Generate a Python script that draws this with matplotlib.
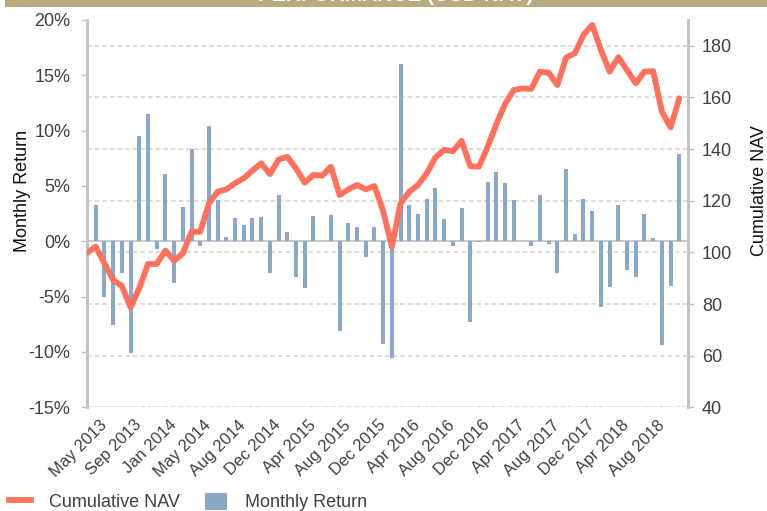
import matplotlib.pyplot as plt
import numpy as np
from matplotlib.lines import Line2D
from matplotlib.patches import Patch, Rectangle
from matplotlib.transforms import blended_transform_factory

plt.rcParams["font.family"] = ["Liberation Sans", "DejaVu Sans"]

# monthly return in %, one bar per month after the start point
monthly_return = [
    3.3, -5.0, -7.6, -2.9, -10.1, 9.5, 11.5, -0.7, 6.1, -3.8, 3.1, 8.3,
    -0.4, 10.4, 3.7, 0.4, 2.1, 1.45, 2.1, 2.2, -2.9, 4.2, 0.8, -3.2,
    -4.2, 2.3, 0.05, 2.4, -8.1, 1.7, 1.3, -1.4, 1.3, -9.3, -10.5, 16.0,
    3.3, 2.5, 3.8, 4.8, 2.0, -0.4, 3.0, -7.3, -0.1, 5.4, 6.3, 5.25,
    3.7, 0.05, -0.4, 4.2, -0.25, -2.9, 6.5, 0.7, 3.8, 2.7, -5.9, -4.1,
    3.3, -2.6, -3.2, 2.5, 0.3, -9.35, -4.0, 7.9,
]

# cumulative NAV, starting point included
cumulative_nav = [
    99.8, 102.2, 95.8, 89.3, 87.0, 78.7, 86.1, 95.5, 95.5, 100.7, 96.8, 99.6,
    108.0, 108.0, 119.0, 123.5, 124.4, 126.8, 128.7, 131.7, 134.5, 130.3, 136.0,
    137.0, 132.5, 127.0, 130.0, 129.7, 133.2, 122.2, 124.4, 126.1, 124.4, 125.7,
    116.0, 102.2, 119.0, 123.5, 126.1, 130.6, 136.8, 139.7, 139.2, 143.2, 133.4,
    133.2, 140.9, 149.7, 157.5, 162.9, 163.5, 163.3, 170.0, 169.6, 164.8, 175.4,
    177.1, 184.2, 188.1, 178.4, 170.0, 175.6, 170.6, 165.5, 170.0, 170.2, 154.5,
    148.4, 159.7,
]

date_labels = [
    "May 2013", "Sep 2013", "Jan 2014", "May 2014", "Aug 2014", "Dec 2014",
    "Apr 2015", "Aug 2015", "Dec 2015", "Apr 2016", "Aug 2016", "Dec 2016",
    "Apr 2017", "Aug 2017", "Dec 2017", "Apr 2018", "Aug 2018",
]

pct_ticks = [-15, -10, -5, 0, 5, 10, 15, 20]
nav_ticks = [40, 60, 80, 100, 120, 140, 160, 180]

BAR_COLOR = "#8CA8C9"
LINE_COLOR = "#FF705D"
AXIS_GRAY = "#C4C4C4"
TEXT_GRAY = "#404040"

W, H = 767, 511
fig = plt.figure(figsize=(W / 100, H / 100), dpi=100)
ax = fig.add_axes((87 / W, 1 - 407.3 / H, 601 / W, 387.3 / H))
ax2 = ax.twinx()

x = np.arange(len(cumulative_nav))

ax.bar(x[1:], monthly_return, width=0.46, color=BAR_COLOR, zorder=3)
ax.axhline(0, color=AXIS_GRAY, lw=1.3, zorder=2)
ax2.plot(x, cumulative_nav, color=LINE_COLOR, lw=4.2, solid_joinstyle="round",
         solid_capstyle="round", zorder=4)

ax.set_xlim(0, 69)
ax.set_ylim(-15, 20)
ax2.set_ylim(40, 190)

# gridlines follow the NAV axis but sit under the bars
grid_tr = blended_transform_factory(ax.transAxes, ax2.transData)
ax.hlines(nav_ticks, 0, 1, transform=grid_tr, colors="#D3D3D3", lw=1.1,
          linestyles=(0, (3, 2)), zorder=1)

ax.set_yticks(pct_ticks)
ax.set_yticklabels([f"{v}%" for v in pct_ticks])
ax2.set_yticks(nav_ticks)
ax.set_xticks(np.arange(2, 67, 4))
ax.set_xticklabels(date_labels, rotation=45, ha="right", va="center",
                   rotation_mode="anchor")

ax.tick_params(axis="y", direction="out", length=4, width=1, color=AXIS_GRAY,
               labelsize=13, labelcolor=TEXT_GRAY, pad=8)
ax2.tick_params(axis="y", direction="out", length=4, width=1, color=AXIS_GRAY,
                labelsize=13, labelcolor=TEXT_GRAY, pad=6)
ax.tick_params(axis="x", length=0, labelsize=12, labelcolor=TEXT_GRAY, pad=11)

for a in (ax, ax2):
    a.spines["top"].set_visible(False)
    a.spines["bottom"].set_visible(False)
    a.spines["left"].set_color(AXIS_GRAY)
    a.spines["right"].set_color(AXIS_GRAY)
    a.spines["left"].set_linewidth(2)
    a.spines["right"].set_linewidth(2)

fig.text(23 / W, 1 - 191 / H, "Monthly Return", rotation=90, ha="center",
         va="center", fontsize=13, color="#111111")
fig.text(760 / W, 1 - 191 / H, "Cumulative NAV", rotation=90, ha="center",
         va="center", fontsize=13, color="#111111")

# title banner, mostly cropped at the top edge
fig.patches.append(Rectangle((5 / W, 1 - 7 / H), 1, 7 / H, transform=fig.transFigure,
                             facecolor="#B8AB80", edgecolor="none"))
fig.text(396 / W, 1 - 1.0 / H, "PERFORMANCE (USD NAV)", ha="center", va="baseline",
         fontsize=15, fontweight="bold", color="white")

handles = [
    Line2D([], [], color=LINE_COLOR, lw=4.2),
    Patch(facecolor=BAR_COLOR, edgecolor="none"),
]
fig.legend(handles, ["Cumulative NAV", "Monthly Return"], loc="center left",
           bbox_to_anchor=(9 / W, 1 - 502 / H), ncol=2, frameon=False,
           fontsize=13, labelcolor=TEXT_GRAY, handlelength=1.2, handleheight=1.1,
           handletextpad=1.0, columnspacing=1.4, borderpad=0, borderaxespad=0)

fig.savefig("out.png", dpi=100)
